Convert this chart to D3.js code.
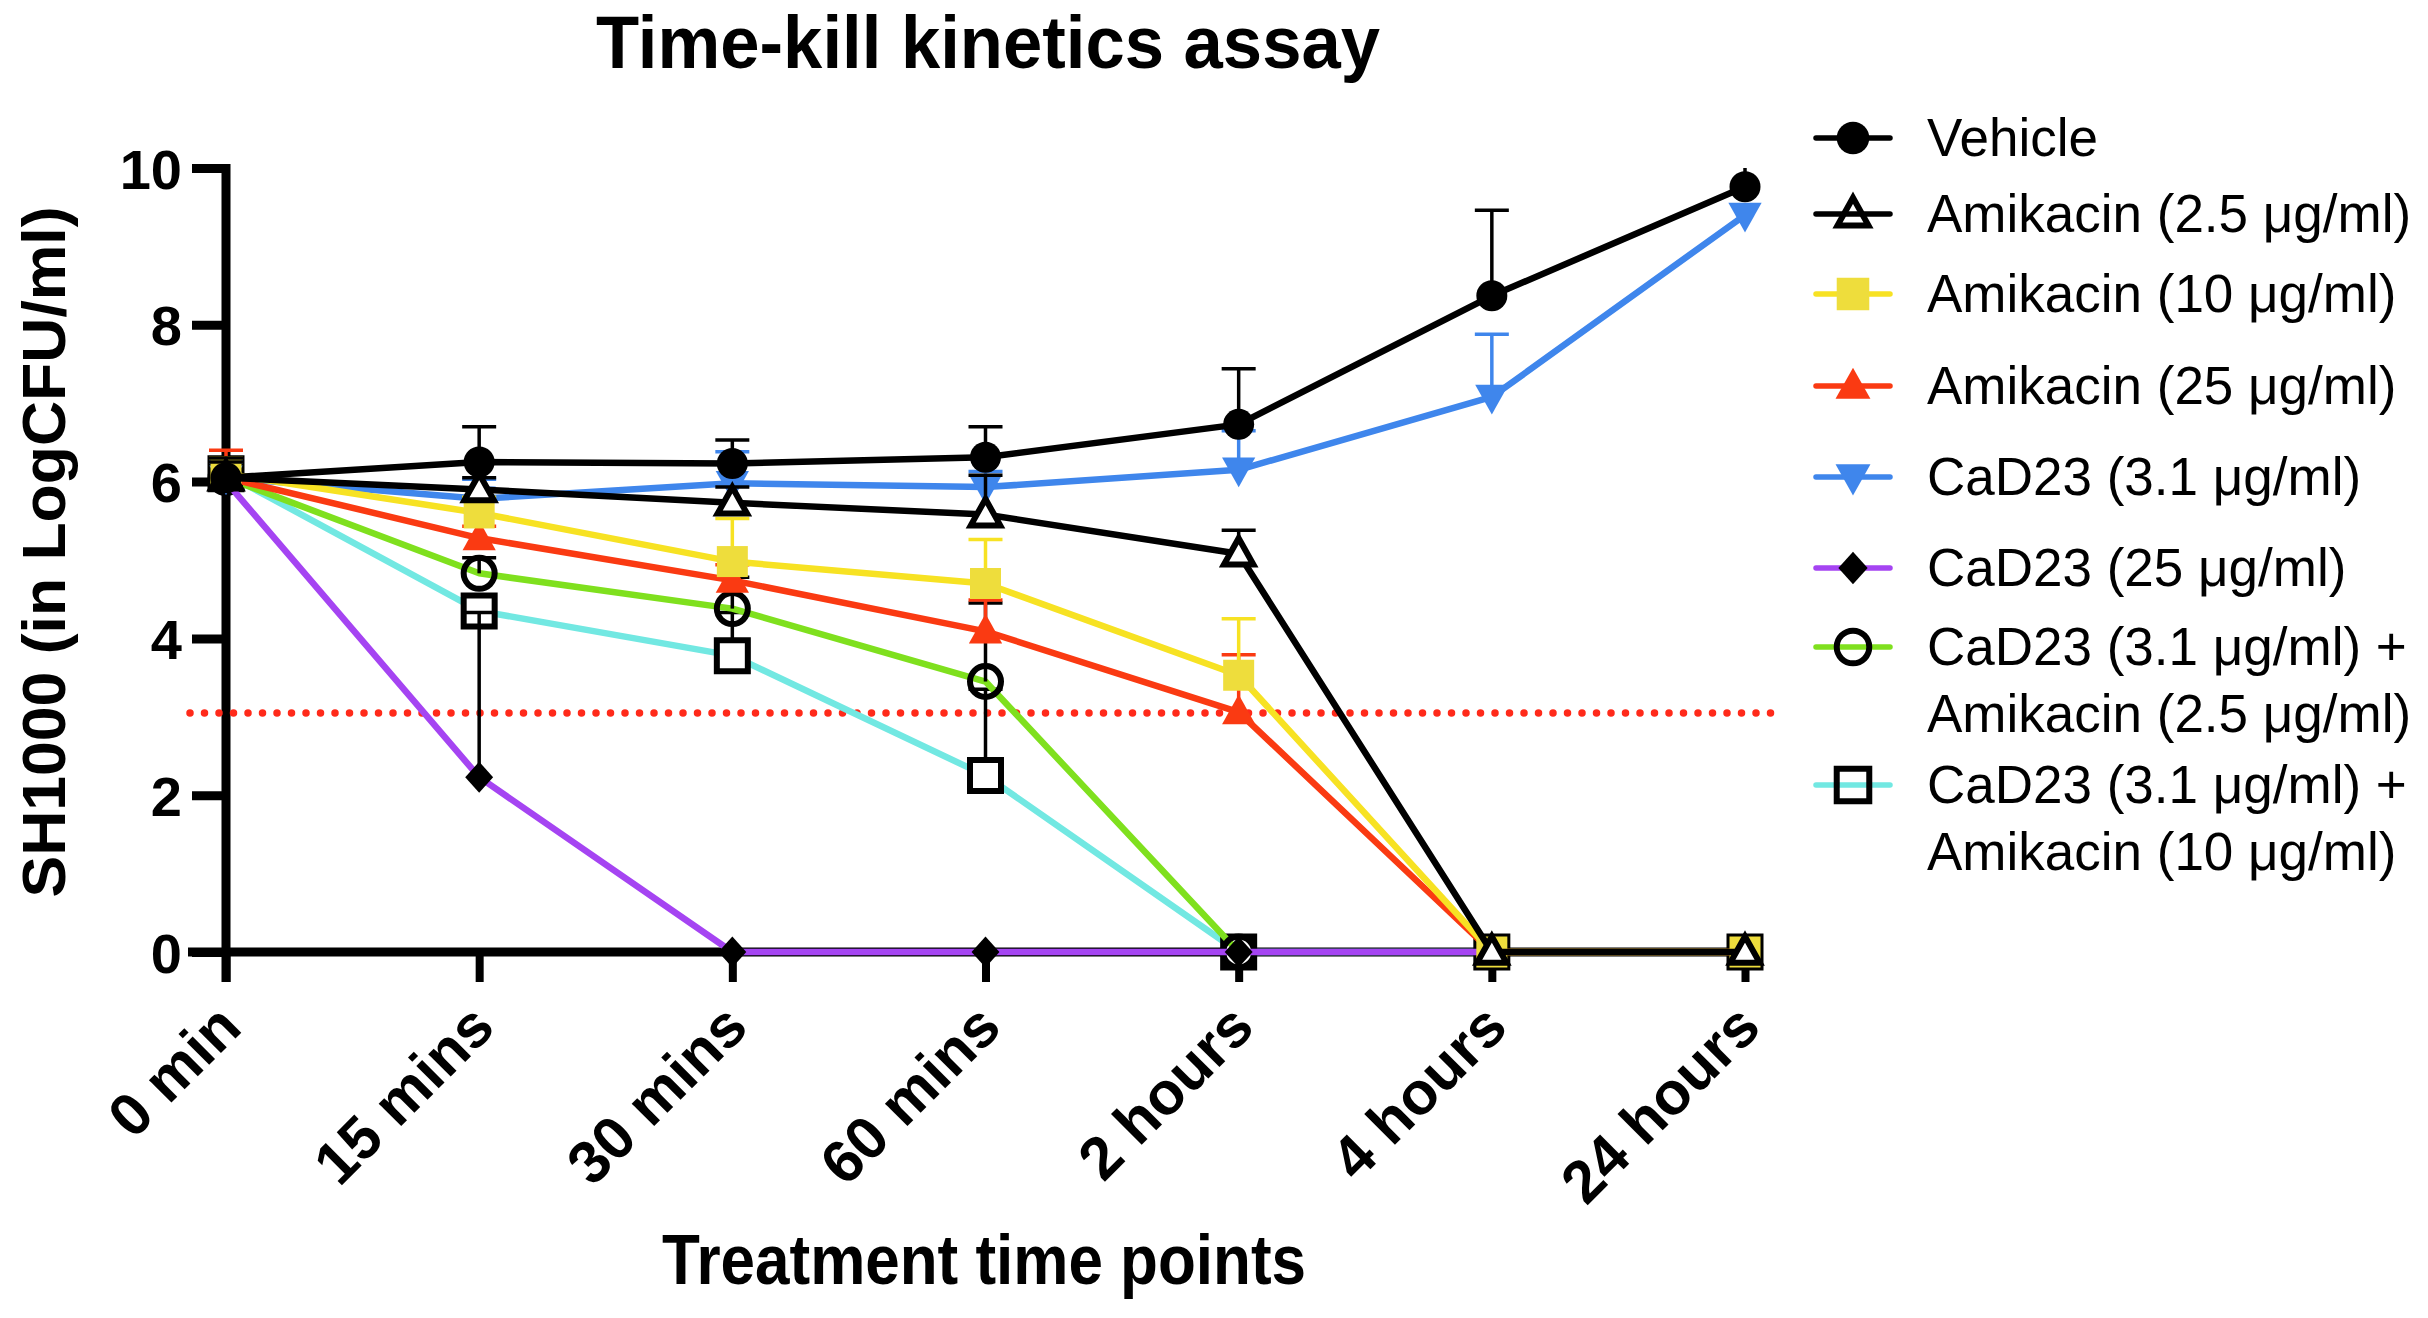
<!DOCTYPE html>
<html>
<head>
<meta charset="utf-8">
<script src="https://cdn.jsdelivr.net/npm/d3@7"></script>
<style>
  html, body { margin: 0; padding: 0; background: #fff; }
  svg { display: block; }
  text { font-family: "Liberation Sans", Arial, Helvetica, sans-serif; }
</style>
</head>
<body>
<svg id="chart" width="2428" height="1318"></svg>
<script>
// ---------------- data ----------------
const categories = ["0 min", "15 mins", "30 mins", "60 mins", "2 hours", "4 hours", "24 hours"];
const yTicks = [0, 2, 4, 6, 8, 10];
const detectionLimit = 3.05;

const seriesNames = [
  "Vehicle",
  "Amikacin (2.5 μg/ml)",
  "Amikacin (10 μg/ml)",
  "Amikacin (25 μg/ml)",
  "CaD23 (3.1 μg/ml)",
  "CaD23 (25 μg/ml)",
  "CaD23 (3.1 μg/ml) +|Amikacin (2.5 μg/ml)",
  "CaD23 (3.1 μg/ml) +|Amikacin (10 μg/ml)"
];

const vehicle      = [6.05, 6.25, 6.23, 6.31, 6.73, 8.37, 9.76];
const vehicleSD    = [0.25, 0.45, 0.30, 0.39, 0.71, 1.09, 0.30];
const amik25       = [6.05, 5.90, 5.73, 5.58, 5.08, 0, 0];
const amik25SD     = [0.2, 0.15, 0.2, 0.5, 0.30, null, null];
const amik10       = [6.10, 5.60, 4.98, 4.70, 3.53, 0, 0];
const amik10SD     = [0.2, 0.2, 0.55, 0.56, 0.72, null, null];
const amik250      = [6.05, 5.28, 4.74, 4.09, 3.06, 0, 0];
const amik250SD    = [0.35, 0.15, 0.2, 0.40, 0.73, null, null];
const cad31        = [6.05, 5.78, 5.98, 5.93, 6.15, 7.08, 9.40];
const cad31SD      = [0.2, 0.25, 0.40, 0.20, 0.50, 0.80, null];
const cad25        = [6.00, 2.23, 0, 0, 0, 0, null];
const cad25SD      = [0.1, 2.10, null, null, null, null, null];
const combo25      = [6.05, 4.83, 4.38, 3.45, 0, null, null];
const combo25SD    = [0.1, 0.2, 0.40, 1.00, null, null, null];
const combo10      = [6.10, 4.35, 3.78, 2.25, 0, 0, 0];
const combo10SD    = [0.1, 0.1, 0.55, 1.10, null, null, null];

const seriesValues = [vehicle, amik25, amik10, amik250, cad31, cad25, combo25, combo10];
const seriesSD     = [vehicleSD, amik25SD, amik10SD, amik250SD, cad31SD, cad25SD, combo25SD, combo10SD];

// ---------------- styles ----------------
const styles = [
  { line: "#000000", err: "#000000", shape: "circle",   fill: "#000000", stroke: "none",    size: 15.5 },
  { line: "#000000", err: "#000000", shape: "triangle", fill: "#ffffff", stroke: "#000000", size: 15.5 },
  { line: "#F7E223", err: "#F7E223", shape: "square",   fill: "#EEDD3C", stroke: "none",    size: 15.5 },
  { line: "#FA3A12", err: "#FA3A12", shape: "triangle", fill: "#FA3A12", stroke: "none",    size: 17.5 },
  { line: "#3F86EC", err: "#3F86EC", shape: "triangleDown", fill: "#3F86EC", stroke: "none", size: 17.5 },
  { line: "#A544F2", err: "#000000", shape: "diamond",  fill: "#000000", stroke: "none",    size: 15.5 },
  { line: "#7FE01E", err: "#000000", shape: "circleOpen", fill: "none",  stroke: "#000000", size: 15.5 },
  { line: "#72E8E2", err: "#000000", shape: "squareOpen", fill: "#ffffff", stroke: "#000000", size: 15.5 }
];

// ---------------- layout ----------------
const svg = d3.select("#chart");
const x = d3.scalePoint().domain(categories).range([226, 1745]);
const y = d3.scaleLinear().domain([0, 10]).range([952, 168]);

svg.append("defs").append("clipPath").attr("id", "plotClip")
  .append("rect").attr("x", 0).attr("y", y(10)).attr("width", 2428).attr("height", 1318);

function markerPath(shape, s) {
  const p = d3.path();
  if (shape === "circle" || shape === "circleOpen") {
    p.arc(0, 0, s, 0, 2 * Math.PI);
  } else if (shape === "square" || shape === "squareOpen") {
    p.rect(-s, -s, 2 * s, 2 * s);
  } else if (shape === "triangle") {
    p.moveTo(0, -s); p.lineTo(s * 0.95, s * 0.7); p.lineTo(-s * 0.95, s * 0.7); p.closePath();
  } else if (shape === "triangleDown") {
    p.moveTo(0, s); p.lineTo(s * 0.95, -s * 0.7); p.lineTo(-s * 0.95, -s * 0.7); p.closePath();
  } else if (shape === "diamond") {
    p.moveTo(0, -s); p.lineTo(s * 0.9, 0); p.lineTo(0, s); p.lineTo(-s * 0.9, 0); p.closePath();
  }
  return p.toString();
}

function drawMarker(g, st, cx, cy, scale) {
  const s = st.size * (scale || 1);
  const el = g.append("path")
    .attr("d", markerPath(st.shape, s))
    .attr("transform", `translate(${cx},${cy})`)
    .attr("fill", st.fill);
  if (st.stroke !== "none") {
    el.attr("stroke", st.stroke).attr("stroke-width", 6).attr("stroke-linejoin", "miter");
  }
}

// ---------------- title ----------------
svg.append("text")
  .attr("x", 988).attr("y", 68)
  .attr("text-anchor", "middle")
  .attr("font-size", 74).attr("font-weight", "bold")
  .attr("textLength", 784).attr("lengthAdjust", "spacingAndGlyphs")
  .text("Time-kill kinetics assay");

// ---------------- axes ----------------
const yAxis = d3.axisLeft(y).tickValues(yTicks).tickSize(34).tickPadding(10).tickFormat(d3.format("d"));
const gy = svg.append("g").attr("transform", "translate(226,0)").call(yAxis);
gy.select(".domain").remove();
gy.selectAll(".tick line").attr("stroke", "#000").attr("stroke-width", 9);
gy.selectAll(".tick text")
  .attr("font-size", 56).attr("font-weight", "bold").attr("fill", "#000")
  .attr("font-family", "'Liberation Sans', Arial, sans-serif")
  .attr("dy", "0.36em");
svg.append("line").attr("x1", 226).attr("x2", 226).attr("y1", 164).attr("y2", 982)
  .attr("stroke", "#000").attr("stroke-width", 9);

const xAxis = d3.axisBottom(x).tickSize(30).tickFormat("");
const gx = svg.append("g").attr("transform", "translate(0,952)").call(xAxis);
gx.select(".domain").remove();
gx.selectAll(".tick line").attr("stroke", "#000").attr("stroke-width", 8);
svg.append("line").attr("x1", 188).attr("x2", 1750).attr("y1", y(0)).attr("y2", y(0))
  .attr("stroke", "#000").attr("stroke-width", 9);

// rotated x labels
svg.append("g").selectAll("text").data(categories).join("text")
  .attr("transform", d => `translate(${x(d) + 18},${1030}) rotate(-45)`)
  .attr("text-anchor", "end")
  .attr("font-size", 60).attr("font-weight", "bold")
  .text(d => d);

// axis titles
svg.append("text")
  .attr("x", 984).attr("y", 1284)
  .attr("text-anchor", "middle")
  .attr("font-size", 70).attr("font-weight", "bold")
  .attr("textLength", 644).attr("lengthAdjust", "spacingAndGlyphs")
  .text("Treatment time points");

svg.append("text")
  .attr("transform", "translate(65,552) rotate(-90)")
  .attr("text-anchor", "middle")
  .attr("font-size", 62).attr("font-weight", "bold")
  .attr("textLength", 691).attr("lengthAdjust", "spacingAndGlyphs")
  .text("SH1000 (in LogCFU/ml)");

// ---------------- detection limit ----------------
svg.append("line")
  .attr("x1", 190).attr("x2", 1776)
  .attr("y1", y(detectionLimit)).attr("y2", y(detectionLimit))
  .attr("stroke", "#FF2A1A").attr("stroke-width", 7.5)
  .attr("stroke-linecap", "round").attr("stroke-dasharray", "0 14.5");

// ---------------- series (first series drawn on top) ----------------
const plot = svg.append("g");
const order = d3.range(seriesValues.length).reverse();
order.forEach(i => {
  const vals = seriesValues[i], sd = seriesSD[i], st = styles[i];
  const pts = categories.map((c, j) => ({ c, v: vals[j], e: sd[j] })).filter(p => p.v !== null);
  const g = plot.append("g");
  g.append("path")
    .datum(pts)
    .attr("fill", "none")
    .attr("stroke", st.line)
    .attr("stroke-width", 6.5)
    .attr("stroke-linejoin", "round")
    .attr("d", d3.line().x(p => x(p.c)).y(p => y(p.v)));
  const eg = g.append("g").attr("clip-path", "url(#plotClip)");
  pts.filter(p => p.e !== null && p.e !== undefined).forEach(p => {
    const cx = x(p.c), y0 = y(p.v), y1 = y(p.v + p.e);
    eg.append("line").attr("x1", cx).attr("x2", cx).attr("y1", y0).attr("y2", y1)
      .attr("stroke", st.err).attr("stroke-width", 3.5);
    eg.append("line").attr("x1", cx - 17).attr("x2", cx + 17).attr("y1", y1).attr("y2", y1)
      .attr("stroke", st.err).attr("stroke-width", 3.5);
  });
  pts.forEach(p => drawMarker(g, st, x(p.c), y(p.v)));
});

// ---------------- legend ----------------
const legendRows = [138, 214, 294, 386, 477, 568, 647, 785];
const lg = svg.append("g");
seriesNames.forEach((name, i) => {
  const st = styles[i];
  const cy = legendRows[i];
  lg.append("line").attr("x1", 1816).attr("x2", 1890).attr("y1", cy).attr("y2", cy)
    .attr("stroke", st.line).attr("stroke-width", 5.5).attr("stroke-linecap", "round");
  const lst = Object.assign({}, st);
  if (st.shape === "triangle" && st.fill === "#ffffff") lst.fill = "none";
  if (st.shape === "squareOpen") lst.fill = "none";
  drawMarker(lg, lst, 1853, cy, 1.05);
  const lines = name.split("|");
  lines.forEach((t, k) => {
    lg.append("text")
      .attr("x", 1927).attr("y", cy + 18 + k * 67)
      .attr("font-size", 53)
      .attr("fill", "#000")
      .text(t);
  });
});
</script>
</body>
</html>
